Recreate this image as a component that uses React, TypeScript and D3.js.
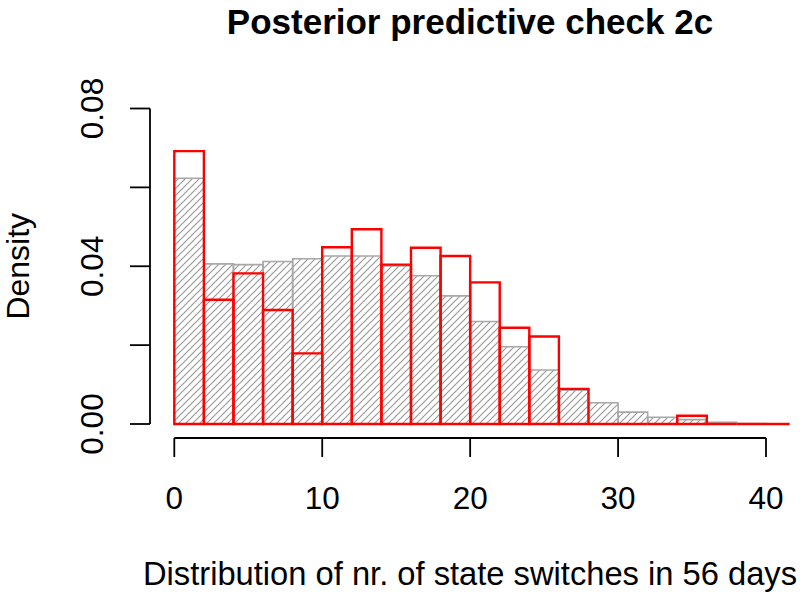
import React from "react";
import * as d3 from "d3";

const binWidth = 2;
const simulatedDensity = [0.0623, 0.0406, 0.0404, 0.0412, 0.0419, 0.0426, 0.0426, 0.0401, 0.0376, 0.0325, 0.026, 0.0196, 0.0137, 0.0086, 0.0054, 0.003, 0.0017, 0.0011, 0.0004, 0.0001];
const observedDensity = [0.0692, 0.0315, 0.0382, 0.0289, 0.0179, 0.0448, 0.0494, 0.0404, 0.0447, 0.0426, 0.0359, 0.0244, 0.0222, 0.0089, 0, 0, 0, 0.0021, 0, 0, 0];
const xTicks = [0, 10, 20, 30, 40];
const yTicks = [0, 0.02, 0.04, 0.06, 0.08];
const yLabelTicks = [0, 0.04, 0.08];
const titleText = "Posterior predictive check 2c";
const xLabelText = "Distribution of nr. of state switches in 56 days";
const yLabelText = "Density";

export default function App() {
  const W = 800, H = 595;
  const x = d3.scaleLinear().domain([0, 40]).range([174.3, 766]);
  const y = d3.scaleLinear().domain([0, 0.08]).range([424, 108.5]);
  const xMin = x(-1.6), xMax = x(41.6);
  const yBot = y(-0.0032), yTop = y(0.0832);
  const font = "'Liberation Sans', Arial, Helvetica, sans-serif";

  const bars = (vals: number[]) => vals.map((v, i) => ({ x0: i * binWidth, x1: (i + 1) * binWidth, v }));
  const barPath = (b: { x0: number; x1: number; v: number }) => {
    const p = d3.path();
    p.moveTo(x(b.x0), y(0));
    p.lineTo(x(b.x0), y(b.v));
    p.lineTo(x(b.x1), y(b.v));
    p.lineTo(x(b.x1), y(0));
    p.closePath();
    return p.toString();
  };

  return (
    <svg width={W} height={H} style={{ position: "absolute", left: 0, top: 0, background: "#fff" }}>
      <defs>
        <pattern id="hatch" patternUnits="userSpaceOnUse" width={7} height={7}>
          <line x1={-1} y1={8} x2={8} y2={-1} stroke="#9a9a9a" strokeWidth={1.2} />
          <line x1={-1} y1={1} x2={1} y2={-1} stroke="#9a9a9a" strokeWidth={1.2} />
          <line x1={6} y1={8} x2={8} y2={6} stroke="#9a9a9a" strokeWidth={1.2} />
        </pattern>
        <clipPath id="plotClip">
          <rect x={xMin} y={yTop} width={xMax - xMin} height={yBot - yTop} />
        </clipPath>
      </defs>
      <rect x={0} y={0} width={W} height={H} fill="#fff" />
      <g clipPath="url(#plotClip)">
        {bars(simulatedDensity).map((b, i) => (
          <path key={"g" + i} d={barPath(b)} fill="url(#hatch)" stroke="#a8a8a8" strokeWidth={1.6} />
        ))}
        {bars(observedDensity).map((b, i) => (
          <path key={"r" + i} d={barPath(b)} fill="none" stroke="#ff0000" strokeWidth={2.4} />
        ))}
      </g>
      {/* y axis */}
      <line x1={150} x2={150} y1={y(0)} y2={y(0.08)} stroke="#000" strokeWidth={1.8} />
      {yTicks.map((t) => (
        <line key={"yt" + t} x1={130} x2={150} y1={y(t)} y2={y(t)} stroke="#000" strokeWidth={1.8} />
      ))}
      {yLabelTicks.map((t) => (
        <text key={"yl" + t} transform={`translate(103,${y(t)}) rotate(-90)`} textAnchor="middle"
          fontFamily={font} fontSize={31.5} fill="#000">{d3.format(".2f")(t)}</text>
      ))}
      {/* x axis */}
      <line x1={x(0)} x2={x(40)} y1={438} y2={438} stroke="#000" strokeWidth={1.8} />
      {xTicks.map((t) => (
        <line key={"xt" + t} x1={x(t)} x2={x(t)} y1={438} y2={457} stroke="#000" strokeWidth={1.8} />
      ))}
      {xTicks.map((t) => (
        <text key={"xl" + t} x={x(t)} y={509} textAnchor="middle" fontFamily={font} fontSize={31.5} fill="#000">{t}</text>
      ))}
      <text x={470} y={34} textAnchor="middle" fontFamily={font} fontSize={35} fontWeight="bold" fill="#000">{titleText}</text>
      <text x={470} y={585} textAnchor="middle" fontFamily={font} fontSize={32.7} fill="#000">{xLabelText}</text>
      <text transform={`translate(29,${(yTop + yBot) / 2}) rotate(-90)`} textAnchor="middle" fontFamily={font} fontSize={32} fill="#000">{yLabelText}</text>
    </svg>
  );
}
